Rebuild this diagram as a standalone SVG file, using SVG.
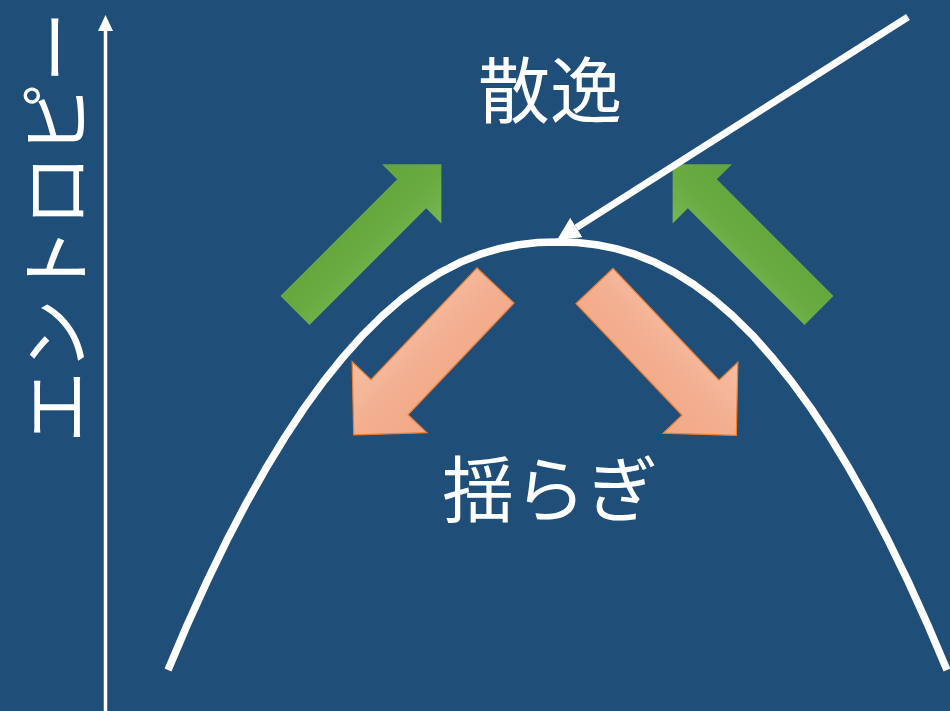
<svg xmlns="http://www.w3.org/2000/svg" width="950" height="711" viewBox="0 0 950 711">
  <style>
    .lbl { font-family: "Noto Sans CJK JP", "Noto Sans", sans-serif; fill: #ffffff; font-size: 72px; }
    .wline { stroke: #ffffff; fill: none; }
    .green { stroke: none; }
    .salmon { stroke: #ED7D31; stroke-width: 1.2; stroke-linejoin: miter; }
  </style>
  <defs>
    <linearGradient id="gGreen" x1="0" y1="0" x2="0" y2="1">
      <stop offset="0" stop-color="#62a53a"/>
      <stop offset="0.55" stop-color="#69ab41"/>
      <stop offset="1" stop-color="#78b651"/>
    </linearGradient>
    <linearGradient id="gSalmon" x1="0" y1="0" x2="0" y2="1">
      <stop offset="0" stop-color="#f2a885"/>
      <stop offset="0.5" stop-color="#f3af90"/>
      <stop offset="1" stop-color="#f6bea4"/>
    </linearGradient>
    <marker id="headSmall" markerUnits="userSpaceOnUse" markerWidth="16" markerHeight="16" refX="0" refY="7.5" orient="auto" viewBox="0 0 16 15">
      <path d="M0,0 L16,7.5 L0,15 z" fill="#ffffff"/>
    </marker>
    <marker id="headBig" markerUnits="userSpaceOnUse" markerWidth="23" markerHeight="23" refX="0" refY="11.5" orient="auto" viewBox="0 0 23 23">
      <path d="M0,0 L23,11.5 L0,23 z" fill="#ffffff"/>
    </marker>
    <polygon id="arrowGreen" points="0,-20.5 165,-20.5 165,-42 207,0 165,42 165,20.5 0,20.5"/>
    <polygon id="arrowSalmon" points="0,-25.5 154,-25.5 154,-51.5 206,0 154,51.5 154,25.5 0,25.5"/>
  </defs>

  <rect x="0" y="0" width="950" height="711" fill="#1F4E79"/>

  <g id="curve">
    <polyline class="wline" stroke-width="7.5" stroke-linejoin="round" points="168.0,670 187.5,624.3 207.0,581.4 226.4,541.3 245.9,504.0 265.4,469.3 284.9,437.3 304.3,407.9 323.8,381.1 343.3,356.9 362.8,335.1 382.2,315.9 401.7,299.0 421.2,284.5 440.7,272.3 460.1,262.3 479.6,254.4 499.1,248.6 518.6,244.7 538.0,242.6 557.5,242 577.0,242.6 596.5,244.7 615.9,248.6 635.4,254.4 654.9,262.3 674.4,272.3 693.8,284.5 713.3,299.0 732.8,315.9 752.3,335.1 771.7,356.9 791.2,381.1 810.7,407.9 830.2,437.3 849.6,469.3 869.1,504.0 888.6,541.3 908.1,581.4 927.5,624.3 947.0,670"/>
  </g>

  <g id="green-left">
    <use href="#arrowGreen" class="green" fill="url(#gGreen)" transform="translate(295,310.5) rotate(-45)"/>
  </g>
  <g id="green-right">
    <use href="#arrowGreen" class="green" fill="url(#gGreen)" transform="translate(819,310.5) scale(-1,1) rotate(-45)"/>
  </g>
  <g id="salmon-left">
    <use href="#arrowSalmon" class="salmon" fill="url(#gSalmon)" transform="translate(495.5,285.5) rotate(133.5)"/>
  </g>
  <g id="salmon-right">
    <use href="#arrowSalmon" class="salmon" fill="url(#gSalmon)" transform="translate(594.5,286) scale(-1,1) rotate(133.5)"/>
  </g>

  <g id="connectors">
    <line id="axis" class="wline" x1="105.5" y1="711" x2="105.5" y2="31" stroke-width="3.5" marker-end="url(#headSmall)"/>
    <line id="pointer" class="wline" x1="908" y1="17" x2="576.4" y2="227.6" stroke-width="7" marker-end="url(#headBig)"/>
  </g>

  <g id="label-entropy">
    <text class="lbl" font-size="77" text-anchor="middle" transform="translate(82,227) rotate(-90)">エントロピー</text>
  </g>
  <g id="label-dissipation">
    <text class="lbl" x="550" y="117" text-anchor="middle">散逸</text>
  </g>
  <g id="label-fluctuation">
    <text class="lbl" x="550" y="516" text-anchor="middle">揺らぎ</text>
  </g>
</svg>
